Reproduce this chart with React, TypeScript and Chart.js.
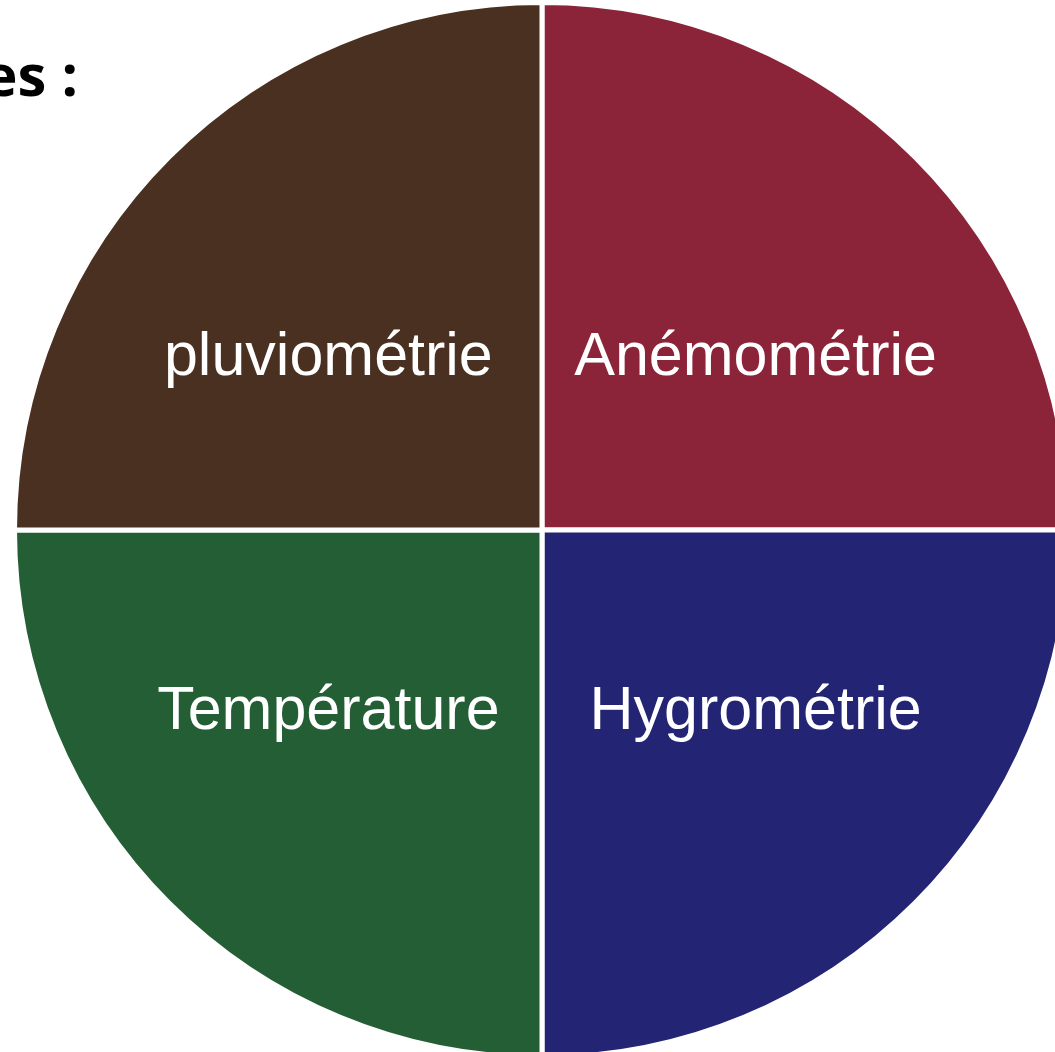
import React, { useEffect, useRef } from "react";
import { Chart, registerables } from "chart.js";

Chart.register(...registerables);

const categories = ["Anémométrie", "Hygrométrie", "Température", "pluviométrie"];
const shares = [25, 25, 25, 25];
const sliceColors = ["#8B2339", "#232474", "#245E34", "#4A3020"];
const headingText = "es :";

const CANVAS = 1100;
const CX = 542;
const CY = 530;

const labelPlugin = {
  id: "sliceLabels",
  afterDatasetsDraw(chart: any) {
    const meta = chart.getDatasetMeta(0);
    const ctx = chart.ctx;
    ctx.save();
    ctx.fillStyle = "#ffffff";
    ctx.font = '61px "Liberation Sans", Arial, sans-serif';
    ctx.textAlign = "center";
    ctx.textBaseline = "alphabetic";
    meta.data.forEach((arc: any, i: number) => {
      const p = arc.getProps(["x", "y", "startAngle", "endAngle", "outerRadius"], true);
      const mid = (p.startAngle + p.endAngle) / 2;
      const R = p.outerRadius;
      const x = p.x + Math.sign(Math.cos(mid)) * 0.405 * R;
      const yMid = p.y + Math.sign(Math.sin(mid)) * 0.335 * R;
      ctx.fillText(String(chart.data.labels[i]), x, yMid + 21.8);
    });
    ctx.restore();
  },
};

export default function App() {
  const ref = useRef<HTMLCanvasElement | null>(null);
  useEffect(() => {
    if (!ref.current) return;
    const chart = new Chart(ref.current, {
      type: "pie",
      data: {
        labels: categories,
        datasets: [
          {
            data: shares,
            backgroundColor: sliceColors,
            borderColor: "#ffffff",
            borderWidth: 5,
          },
        ],
      },
      options: {
        responsive: false,
        maintainAspectRatio: false,
        animation: false,
        layout: { padding: 20 },
        plugins: {
          legend: { display: false },
          tooltip: { enabled: false },
        },
      },
      plugins: [labelPlugin],
    });
    return () => chart.destroy();
  }, []);

  return (
    <div
      style={{
        position: "fixed",
        left: 0,
        top: 0,
        right: 0,
        bottom: 0,
        overflow: "hidden",
        background: "#ffffff",
      }}
    >
      <canvas
        ref={ref}
        width={CANVAS}
        height={CANVAS}
        style={{
          position: "absolute",
          left: CX - CANVAS / 2,
          top: CY - CANVAS / 2,
          width: CANVAS,
          height: CANVAS,
        }}
      />
      <div
        style={{
          position: "absolute",
          right: 1055 - 78,
          top: 45,
          fontFamily: '"Open Sans", sans-serif',
          fontWeight: 700,
          fontSize: 58,
          lineHeight: 1,
          color: "#000000",
          whiteSpace: "nowrap",
        }}
      >
        {headingText}
      </div>
    </div>
  );
}
